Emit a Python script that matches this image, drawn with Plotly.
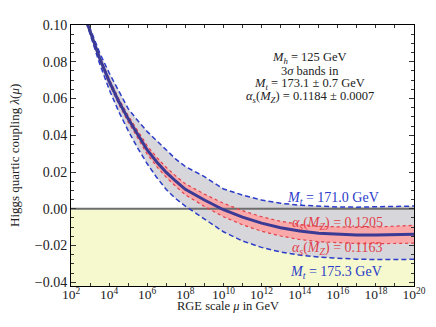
import plotly.graph_objects as go

# exponents of the RGE scale mu (GeV), mu = 10**e
log_mu = [2.8, 3.0, 3.5, 4.0, 4.5, 5.0, 5.5, 6.0, 6.5, 7.0, 7.5, 8.0,
          9.0, 10.0, 11.0, 12.0, 13.0, 14.0, 15.0, 16.0, 17.0, 18.0, 19.0, 20.0]

lam_central = [0.1025, 0.0965, 0.0820, 0.0695, 0.0585, 0.0490, 0.0405, 0.0320,
               0.0255, 0.0198, 0.0150, 0.0106, 0.0048, -0.0005, -0.0045, -0.0078,
               -0.0103, -0.0121, -0.0133, -0.0140, -0.0143, -0.0143, -0.0141, -0.0138]

lam_mt171 = [0.1035, 0.0980, 0.0850, 0.0740, 0.0640, 0.0545, 0.0480, 0.0420,
             0.0370, 0.0320, 0.0270, 0.0230, 0.0175, 0.0108, 0.0075, 0.0048,
             0.0030, 0.0020, 0.0013, 0.0010, 0.0009, 0.0010, 0.0012, 0.0015]

lam_mt1753 = [0.1015, 0.0950, 0.0790, 0.0650, 0.0530, 0.0425, 0.0330, 0.0245,
              0.0170, 0.0105, 0.0055, 0.0015, -0.0055, -0.0125, -0.0175, -0.0210,
              -0.0235, -0.0252, -0.0263, -0.0270, -0.0274, -0.0276, -0.0276, -0.0275]

lam_as1205 = [0.1030, 0.0972, 0.0830, 0.0708, 0.0600, 0.0507, 0.0425, 0.0343,
              0.0280, 0.0225, 0.0178, 0.0136, 0.0080, 0.0030, -0.0010, -0.0043,
              -0.0068, -0.0085, -0.0095, -0.0100, -0.0101, -0.0099, -0.0095, -0.0090]

lam_as1163 = [0.1020, 0.0958, 0.0810, 0.0682, 0.0570, 0.0473, 0.0385, 0.0297,
              0.0230, 0.0171, 0.0122, 0.0076, 0.0013, -0.0043, -0.0087, -0.0122,
              -0.0148, -0.0167, -0.0179, -0.0186, -0.0189, -0.0190, -0.0189, -0.0187]

x_decades = list(range(2, 21))

mu = [10.0 ** e for e in log_mu]

SERIF = "Liberation Serif, Times New Roman, serif"
BLUE = "#2b3cc8"
RED = "#e2404a"

# page offset: the browser puts an 8px body margin around the figure
OFF = 8
L, T, PW, PH = 71 - OFF, 18 - OFF, 352, 268


def px_x(px):
    return (px - OFF - L) / PW


def px_y(py):
    return (T + PH - (py - OFF)) / PH


fig = go.Figure()

# grey 3 sigma band in Mt
fig.add_trace(go.Scatter(x=mu, y=lam_mt1753, mode="lines", line=dict(width=0),
                         showlegend=False, hoverinfo="skip"))
fig.add_trace(go.Scatter(x=mu, y=lam_mt171, mode="lines", line=dict(width=0),
                         fill="tonexty", fillcolor="#d7d7db",
                         showlegend=False, hoverinfo="skip"))
# pink band in alpha_s
fig.add_trace(go.Scatter(x=mu, y=lam_as1163, mode="lines", line=dict(width=0),
                         showlegend=False, hoverinfo="skip"))
fig.add_trace(go.Scatter(x=mu, y=lam_as1205, mode="lines", line=dict(width=0),
                         fill="tonexty", fillcolor="#f9a9a9",
                         showlegend=False, hoverinfo="skip"))

# lambda = 0 line
fig.add_trace(go.Scatter(x=[10.0 ** x_decades[0], 10.0 ** x_decades[-1]], y=[0, 0],
                         mode="lines", line=dict(color="#6e6e6e", width=2),
                         showlegend=False, hoverinfo="skip"))

for ys in (lam_as1205, lam_as1163):
    fig.add_trace(go.Scatter(x=mu, y=ys, mode="lines",
                             line=dict(color=RED, width=1.2, dash="3px,3px"),
                             showlegend=False))
for ys in (lam_mt171, lam_mt1753):
    fig.add_trace(go.Scatter(x=mu, y=ys, mode="lines",
                             line=dict(color=BLUE, width=1.5, dash="5px,3px"),
                             showlegend=False))

fig.add_trace(go.Scatter(x=mu, y=lam_central, mode="lines",
                         line=dict(color="#3b3b96", width=3), showlegend=False))

# yellow region lambda < 0
fig.add_shape(type="rect", xref="paper", x0=0, x1=1, yref="y", y0=-0.042, y1=0,
              fillcolor="#f5f9cd", line=dict(width=0), layer="below")

fig.update_xaxes(
    type="log", range=[2, 20],
    tickvals=[10.0 ** n for n in x_decades],
    ticktext=[f"10<sup>{n}</sup>" if n % 2 == 0 else "" for n in x_decades],
    ticks="inside", ticklen=3, tickcolor="#333", ticklabelstandoff=-4,
    showline=True, linecolor="black", linewidth=1, mirror="allticks",
    showgrid=False, zeroline=False,
    tickfont=dict(family=SERIF, size=13.5, color="#222"),
)
fig.update_yaxes(
    range=[-0.042, 0.10], tickmode="linear", tick0=0, dtick=0.02, tickformat=".2f",
    ticks="inside", ticklen=5, tickcolor="#333",
    minor=dict(dtick=0.005, ticks="inside", ticklen=3, tickcolor="#333"),
    showline=True, linecolor="black", linewidth=1, mirror="allticks",
    showgrid=False, zeroline=False,
    tickfont=dict(family=SERIF, size=14, color="#222"),
)

ann = []
# axis titles
ann.append(dict(text="RGE scale <i>μ</i> in GeV", xref="paper", yref="paper",
                x=px_x(232), y=px_y(307), showarrow=False, yanchor="middle",
                font=dict(family=SERIF, size=12.5, color="#222")))
ann.append(dict(text="Higgs quartic coupling <i>λ</i>(<i>μ</i>)", xref="paper", yref="paper",
                x=px_x(13), y=px_y(152), textangle=-90, showarrow=False, xanchor="center",
                font=dict(family=SERIF, size=13, color="#222")))

# info block
info = ["<i>M<sub>h</sub></i> = 125 GeV",
        "3<i>σ</i> bands in",
        "<i>M<sub>t</sub></i> = 173.1 ± 0.7 GeV",
        "<i>α<sub>s</sub></i>(<i>M<sub>Z</sub></i>) = 0.1184 ± 0.0007"]
for i, t in enumerate(info):
    ann.append(dict(text=t, xref="paper", yref="paper",
                    x=px_x(316), y=px_y(51.5 + 13.4 * i),
                    showarrow=False, xanchor="center", yanchor="middle",
                    font=dict(family=SERIF, size=12.5, color="#222")))

# curve labels
labels = [("<i>M<sub>t</sub></i> = 171.0 GeV", BLUE, 340, 196),
          ("<i>α<sub>s</sub></i>(<i>M<sub>Z</sub></i>) = 0.1205", RED, 345, 222),
          ("<i>α<sub>s</sub></i>(<i>M<sub>Z</sub></i>) = 0.1163", RED, 345, 248),
          ("<i>M<sub>t</sub></i> = 175.3 GeV", BLUE, 343, 272)]
for t, c, px, py in labels:
    ann.append(dict(text=t, xref="paper", yref="paper",
                    x=px_x(px), y=px_y(py),
                    showarrow=False, xanchor="center", yanchor="middle",
                    font=dict(family=SERIF, size=14, color=c)))

fig.update_layout(
    width=436 - OFF, height=327 - OFF,
    margin=dict(l=L, r=436 - OFF - L - PW, t=T, b=327 - OFF - T - PH),
    paper_bgcolor="white", plot_bgcolor="white",
    annotations=ann,
    showlegend=False,
)

fig.write_html("out.html")
